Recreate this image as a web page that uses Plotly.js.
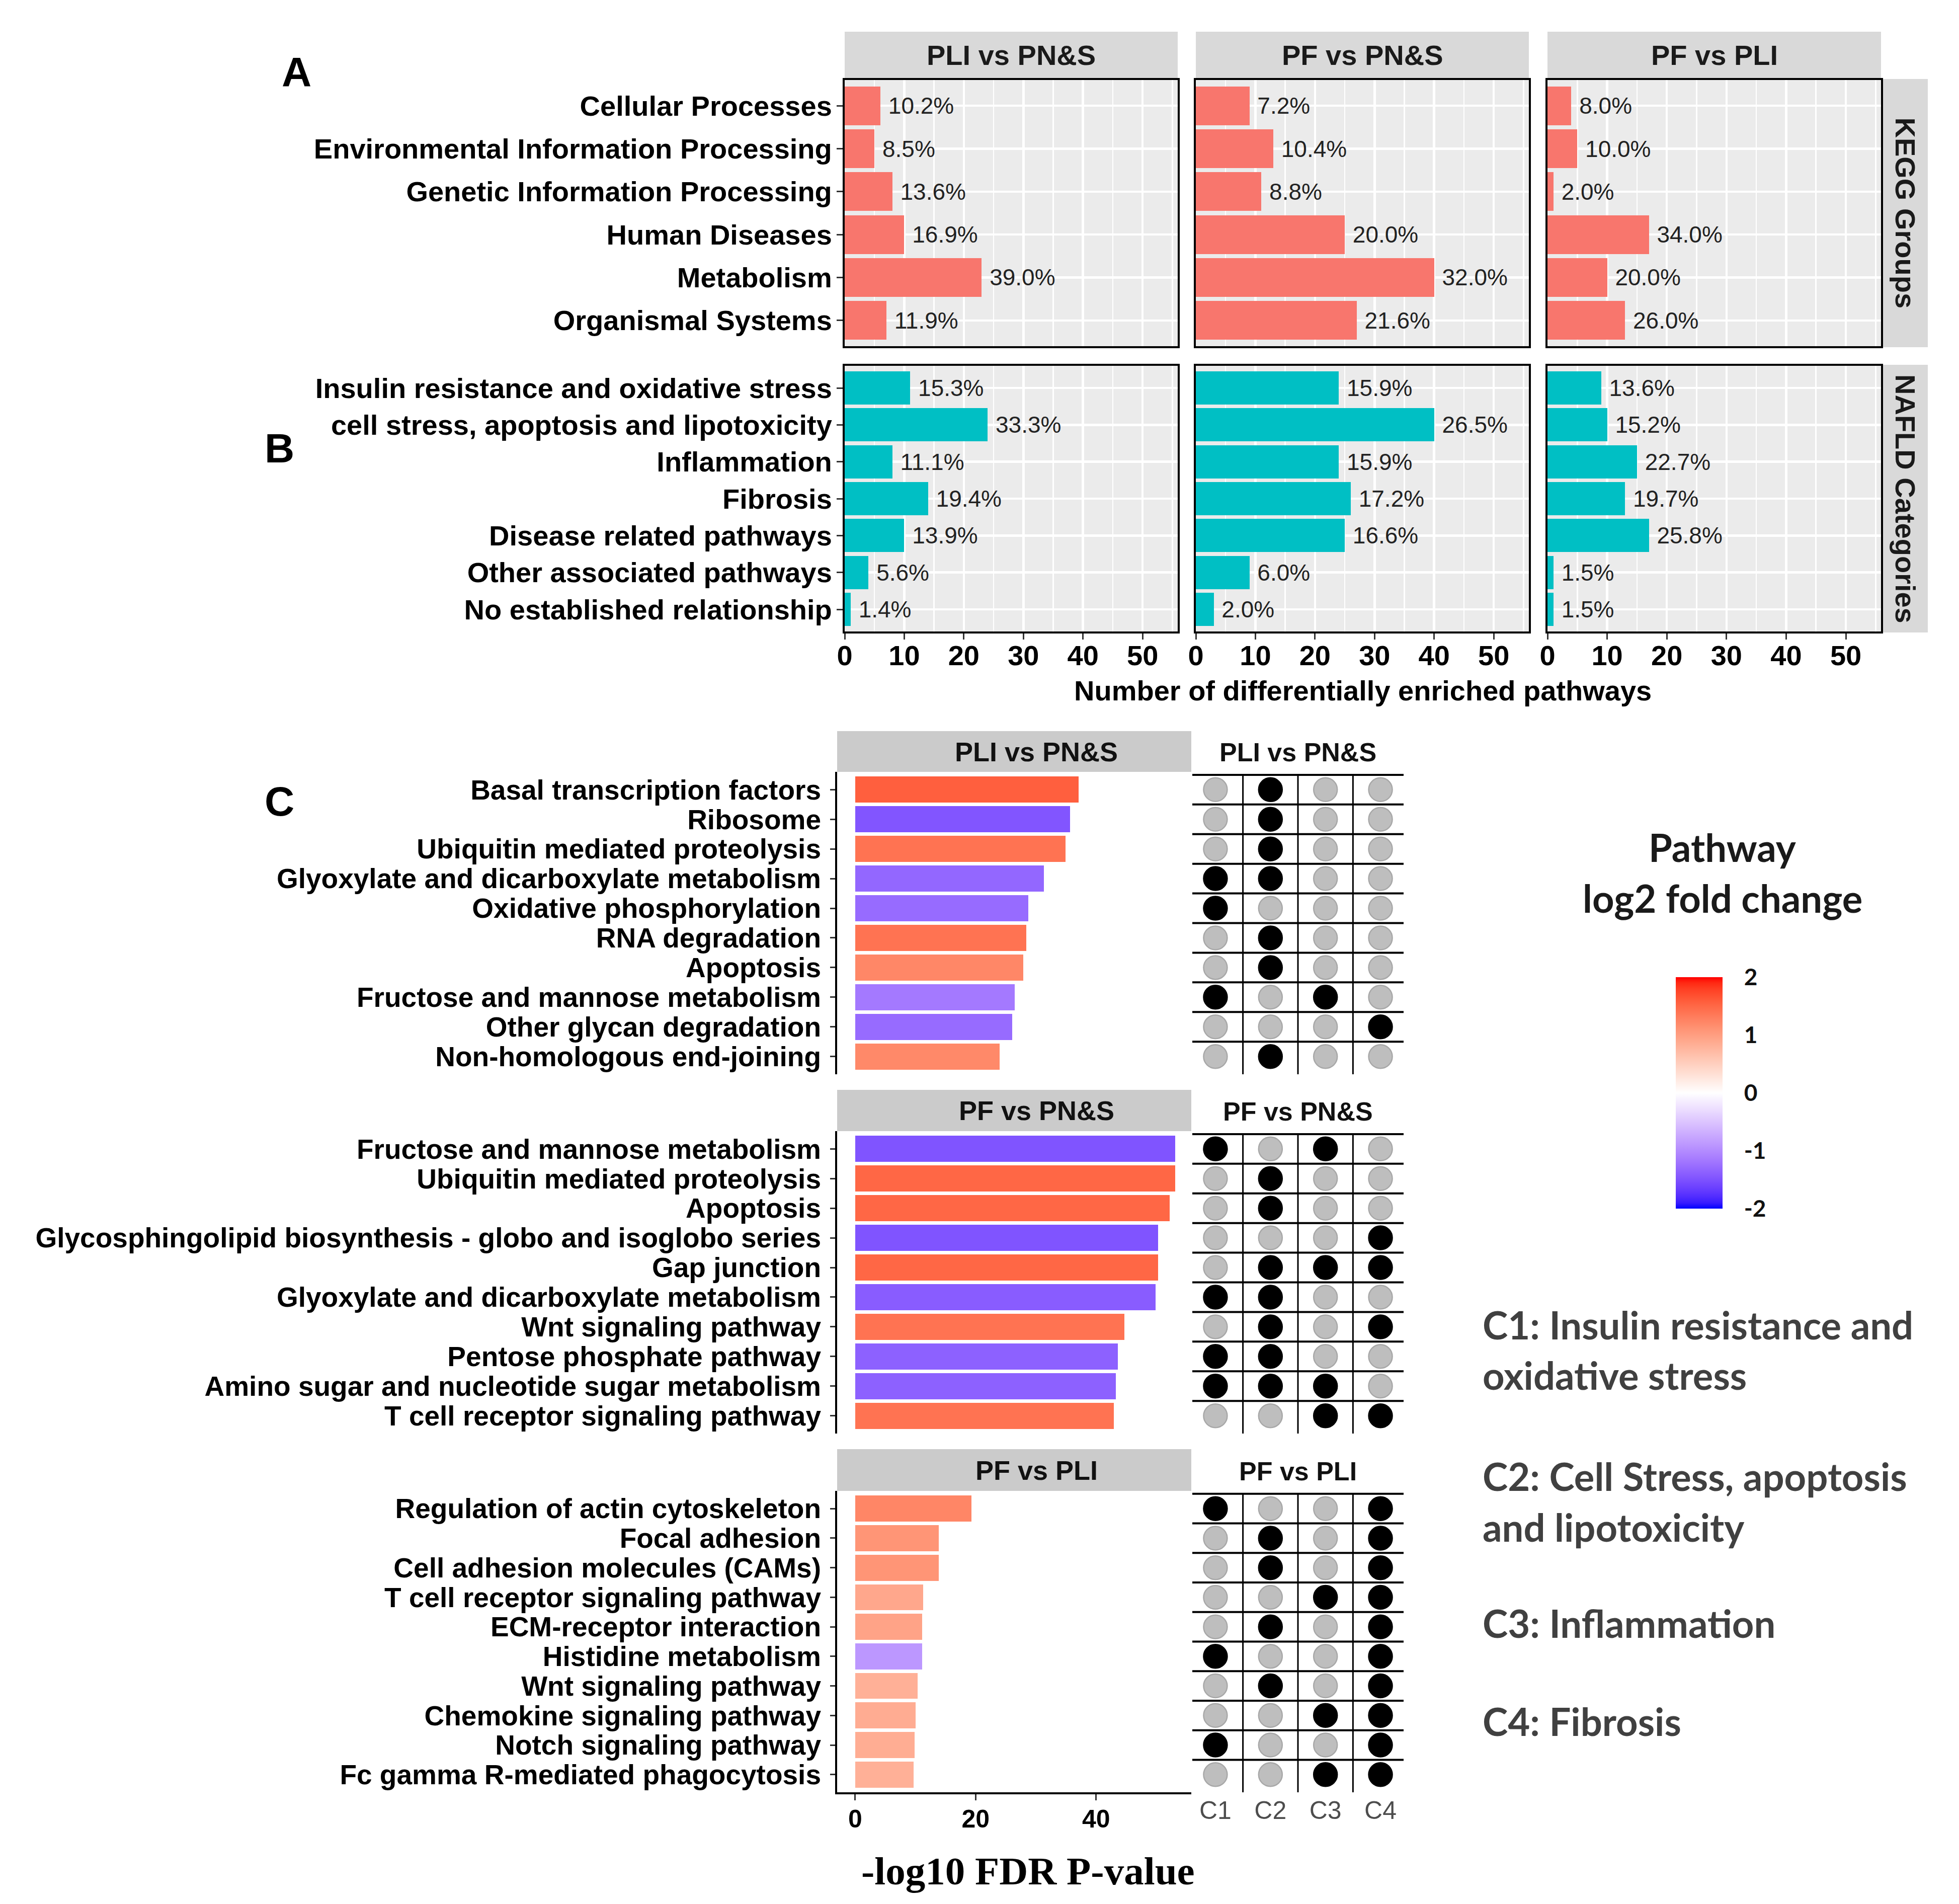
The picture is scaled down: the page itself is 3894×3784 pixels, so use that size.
<!DOCTYPE html>
<html><head><meta charset="utf-8">
<script src="https://cdn.plot.ly/plotly-3.0.1.min.js"></script>
<style>html,body{margin:0;padding:0;background:#fff}#chart{width:3894px;height:3784px}</style>
</head><body><div id="chart"></div>
<script>
// ===================== DATA =====================
const comparisons = ['PLI vs PN&S', 'PF vs PN&S', 'PF vs PLI'];
const facetRows = ['KEGG Groups', 'NAFLD Categories'];

const keggGroups = ['Cellular Processes', 'Environmental Information Processing', 'Genetic Information Processing',
  'Human Diseases', 'Metabolism', 'Organismal Systems'];
const keggPLIvsPNS = [6, 5, 8, 10, 23, 7];
const keggPFvsPNS = [9, 13, 11, 25, 40, 27];
const keggPFvsPLI = [4, 5, 1, 17, 10, 13];

const nafldCategories = ['Insulin resistance and oxidative stress', 'cell stress, apoptosis and lipotoxicity',
  'Inflammation', 'Fibrosis', 'Disease related pathways', 'Other associated pathways', 'No established relationship'];
const nafldPLIvsPNS = [11, 24, 8, 14, 10, 4, 1];
const nafldPFvsPNS = [24, 40, 24, 26, 25, 9, 3];
const nafldPFvsPLI = [9, 10, 15, 13, 17, 1, 1];

const countTicks = [0, 10, 20, 30, 40, 50];

// Panel C
const nafldClasses = ['C1', 'C2', 'C3', 'C4'];

const pathwaysPLIvsPNS = ['Basal transcription factors', 'Ribosome', 'Ubiquitin mediated proteolysis',
  'Glyoxylate and dicarboxylate metabolism', 'Oxidative phosphorylation', 'RNA degradation', 'Apoptosis',
  'Fructose and mannose metabolism', 'Other glycan degradation', 'Non-homologous end-joining'];
const fdrPLIvsPNS = [37.1, 35.7, 34.9, 31.3, 28.7, 28.4, 27.9, 26.5, 26.1, 24.0];
const fcPLIvsPNS = [1.57, -1.47, 1.40, -1.32, -1.28, 1.40, 1.22, -1.16, -1.28, 1.20];
const classPLIvsPNS = [[0,1,0,0],[0,1,0,0],[0,1,0,0],[1,1,0,0],[1,0,0,0],[0,1,0,0],[0,1,0,0],[1,0,1,0],[0,0,0,1],[0,1,0,0]];

const pathwaysPFvsPNS = ['Fructose and mannose metabolism', 'Ubiquitin mediated proteolysis', 'Apoptosis',
  'Glycosphingolipid biosynthesis - globo and isoglobo series', 'Gap junction', 'Glyoxylate and dicarboxylate metabolism',
  'Wnt signaling pathway', 'Pentose phosphate pathway', 'Amino sugar and nucleotide sugar metabolism',
  'T cell receptor signaling pathway'];
const fdrPFvsPNS = [53.1, 53.1, 52.2, 50.3, 50.3, 49.9, 44.7, 43.6, 43.3, 42.9];
const fcPFvsPNS = [-1.48, 1.51, 1.51, -1.48, 1.51, -1.41, 1.40, -1.37, -1.37, 1.40];
const classPFvsPNS = [[1,0,1,0],[0,1,0,0],[0,1,0,0],[0,0,0,1],[0,1,1,1],[1,1,0,0],[0,1,0,1],[1,1,0,0],[1,1,1,0],[0,0,1,1]];

const pathwaysPFvsPLI = ['Regulation of actin cytoskeleton', 'Focal adhesion', 'Cell adhesion molecules (CAMs)',
  'T cell receptor signaling pathway', 'ECM-receptor interaction', 'Histidine metabolism', 'Wnt signaling pathway',
  'Chemokine signaling pathway', 'Notch signaling pathway', 'Fc gamma R-mediated phagocytosis'];
const fdrPFvsPLI = [19.3, 13.9, 13.9, 11.3, 11.1, 11.1, 10.4, 10.0, 9.9, 9.7];
const fcPFvsPLI = [1.23, 1.09, 1.09, 0.91, 0.95, -0.90, 0.82, 0.86, 0.85, 0.82];
const classPFvsPLI = [[1,0,0,1],[0,1,0,1],[0,1,0,1],[0,0,1,1],[0,1,0,1],[1,0,0,1],[0,1,0,1],[0,0,1,1],[1,0,0,1],[0,0,1,1]];

const fdrTicks = [0, 20, 40];
const fcTicks = [-2, -1, 0, 1, 2];

const legendLines = ['C1: Insulin resistance and', 'oxidative stress', 'C2: Cell Stress, apoptosis',
  'and lipotoxicity', 'C3: Inflammation', 'C4: Fibrosis'];

// ===================== HELPERS =====================
const W = 3894, H = 3784;
const px = v => v / W;
const py = v => 1 - v / H;
const dX = (a, b) => [px(a), px(b)];
const dY = (top, bottom) => [py(bottom), py(top)];
const SANS = 'Liberation Sans';

// Lab-space diverging scale (blue - white - red), like ggplot scale_fill_gradient2
function s2l(c) { c /= 255; return c <= 0.04045 ? c / 12.92 : Math.pow((c + 0.055) / 1.055, 2.4); }
function l2s(c) { c = Math.max(0, Math.min(1, c)); return Math.round(255 * (c <= 0.0031308 ? 12.92 * c : 1.055 * Math.pow(c, 1 / 2.4) - 0.055)); }
function rgb2lab(rgb) {
  const [r, g, b] = rgb.map(s2l);
  const X = (0.4124 * r + 0.3576 * g + 0.1805 * b) / 0.95047;
  const Y = (0.2126 * r + 0.7152 * g + 0.0722 * b);
  const Z = (0.0193 * r + 0.1192 * g + 0.9505 * b) / 1.08883;
  const f = t => t > 0.008856 ? Math.cbrt(t) : 7.787 * t + 16 / 116;
  const fx = f(X), fy = f(Y), fz = f(Z);
  return [116 * fy - 16, 500 * (fx - fy), 200 * (fy - fz)];
}
function lab2rgb(lab) {
  const [L, a, b] = lab;
  const fy = (L + 16) / 116, fx = fy + a / 500, fz = fy - b / 200;
  const fi = t => (t * t * t > 0.008856) ? t * t * t : (t - 16 / 116) / 7.787;
  const X = 0.95047 * fi(fx), Y = fi(fy), Z = 1.08883 * fi(fz);
  const r = 3.2406 * X - 1.5372 * Y - 0.4986 * Z;
  const g = -0.9689 * X + 1.8758 * Y + 0.0415 * Z;
  const bb = 0.0557 * X - 0.2040 * Y + 1.0570 * Z;
  return 'rgb(' + l2s(r) + ',' + l2s(g) + ',' + l2s(bb) + ')';
}
const labW = rgb2lab([255, 255, 255]), labR = rgb2lab([255, 0, 0]), labB = rgb2lab([0, 0, 255]);
const fcScale = [];
for (let i = 0; i <= 40; i++) {
  const v = -2 + i * 0.1, t = Math.abs(v) / 2, end = v < 0 ? labB : labR;
  fcScale.push([i / 40, lab2rgb(labW.map((w, k) => w + (end[k] - w) * t))]);
}

// ===================== BUILD =====================
const traces = [];
const layout = {
  width: W, height: H, margin: {l: 0, r: 0, t: 0, b: 0},
  paper_bgcolor: '#ffffff', plot_bgcolor: 'rgba(0,0,0,0)',
  showlegend: false, bargap: 0, font: {family: SANS, color: '#000'},
  annotations: [], shapes: []
};
const ann = (o) => layout.annotations.push(Object.assign({xref: 'paper', yref: 'paper', showarrow: false}, o));
const rect = (x0, y0, x1, y1, color) => layout.shapes.push({type: 'rect', xref: 'paper', yref: 'paper',
  x0: px(x0), x1: px(x1), y0: py(y1), y1: py(y0), fillcolor: color, line: {width: 0}, layer: 'below'});

// ---- Panels A / B
const colsX = [[1679, 2341], [2377, 3039], [3076, 3739]];
const rowsY = [[159, 688], [727, 1255]];
const abCats = [keggGroups, nafldCategories];
const abVals = [[keggPLIvsPNS, keggPFvsPNS, keggPFvsPLI], [nafldPLIvsPNS, nafldPFvsPNS, nafldPFvsPLI]];
const abColors = ['#F8766D', '#00BFC4'];

for (let r = 0; r < 2; r++) {
  for (let c = 0; c < 3; c++) {
    const idx = r * 3 + c + 1, sx = idx === 1 ? '' : String(idx);
    const vals = abVals[r][c], total = vals.reduce((a, b) => a + b, 0);
    traces.push({
      type: 'bar', orientation: 'h', x: vals, y: abCats[r], xaxis: 'x' + sx, yaxis: 'y' + sx,
      marker: {color: abColors[r], line: {width: 0}}, width: 0.9,
      text: vals.map(v => '\u00A0' + (v / total * 100).toFixed(1) + '%'),
      textposition: 'outside', constraintext: 'none', cliponaxis: false,
      textfont: {family: SANS, size: 46, color: '#222'}, hoverinfo: 'skip'
    });
    const n = abCats[r].length;
    layout['xaxis' + sx] = {
      domain: dX(colsX[c][0], colsX[c][1]), anchor: 'y' + sx, range: [0, 55.9],
      tickmode: 'array', tickvals: countTicks, showgrid: true, gridcolor: '#ffffff', gridwidth: 4.5,
      minor: {tick0: 5, dtick: 10, showgrid: true, gridcolor: '#ffffff', gridwidth: 2.5},
      showline: true, mirror: true, linecolor: '#000', linewidth: 4, zeroline: false,
      ticks: r === 1 ? 'outside' : '', ticklen: 12, tickwidth: 3, tickcolor: '#333',
      showticklabels: r === 1, ticklabelstandoff: -16,
      tickfont: {family: SANS, size: 56, color: '#000', weight: 700}
    };
    layout['yaxis' + sx] = {
      domain: dY(rowsY[r][0], rowsY[r][1]), anchor: 'x' + sx, type: 'category',
      categoryorder: 'array', categoryarray: abCats[r], range: [n - 0.4, -0.6],
      tickmode: 'array', tickvals: abCats[r],
      showgrid: true, gridcolor: '#ffffff', gridwidth: 4.5,
      showline: true, mirror: true, linecolor: '#000', linewidth: 4, zeroline: false,
      ticks: c === 0 ? 'outside' : '', ticklen: 12, tickwidth: 3, tickcolor: '#333',
      showticklabels: c === 0, ticklabelstandoff: -2,
      tickfont: {family: SANS, size: 56, color: '#000', weight: 700}
    };
    layout.shapes.push({type: 'rect', xref: 'x' + sx + ' domain', yref: 'y' + sx + ' domain',
      x0: 0, x1: 1, y0: 0, y1: 1, fillcolor: '#EBEBEB', line: {width: 0}, layer: 'below'});
  }
}
// strips A/B
comparisons.forEach((t, c) => {
  rect(colsX[c][0], 63, colsX[c][1], 155, '#D9D9D9');
  ann({x: px((colsX[c][0] + colsX[c][1]) / 2), y: py(109), text: t, xanchor: 'center', yanchor: 'middle',
    font: {family: SANS, size: 56, color: '#1a1a1a', weight: 700}});
});
facetRows.forEach((t, r) => {
  rect(3742, rowsY[r][0] - 2, 3832, rowsY[r][1] + 2, '#D9D9D9');
  ann({x: px(3787), y: py((rowsY[r][0] + rowsY[r][1]) / 2), text: t, textangle: 90, xanchor: 'center', yanchor: 'middle',
    font: {family: SANS, size: 56, color: '#1a1a1a', weight: 700}});
});
ann({x: px(2709), y: py(1372), text: 'Number of differentially enriched pathways', xanchor: 'center', yanchor: 'middle',
  font: {family: SANS, size: 56, color: '#000', weight: 700}});
ann({x: px(589), y: py(142), text: 'A', xanchor: 'center', yanchor: 'middle', font: {family: SANS, size: 82, color: '#000', weight: 700}});
ann({x: px(555), y: py(890), text: 'B', xanchor: 'center', yanchor: 'middle', font: {family: SANS, size: 82, color: '#000', weight: 700}});
ann({x: px(555), y: py(1592), text: 'C', xanchor: 'center', yanchor: 'middle', font: {family: SANS, size: 82, color: '#000', weight: 700}});

// ---- Panel C
const cY = [[1534, 2135], [2248, 2849], [2963, 3562]];
const stripY = [[1453, 1534], [2166, 2248], [2880, 2963]];
const barX = [1664, 2368], dotX = [2370, 2790];
const cPath = [pathwaysPLIvsPNS, pathwaysPFvsPNS, pathwaysPFvsPLI];
const cFdr = [fdrPLIvsPNS, fdrPFvsPNS, fdrPFvsPLI];
const cFc = [fcPLIvsPNS, fcPFvsPNS, fcPFvsPLI];
const cCls = [classPLIvsPNS, classPFvsPNS, classPFvsPLI];

for (let k = 0; k < 3; k++) {
  const bi = 7 + k, di = 10 + k;
  const n = cPath[k].length;
  const marker = {color: cFc[k], colorscale: fcScale, cmin: -2, cmax: 2, showscale: k === 0, line: {width: 0}};
  if (k === 0) {
    marker.colorbar = {
      x: px(3331), xanchor: 'left', xpad: 0, y: py(2172), yanchor: 'middle', ypad: 0,
      len: 460, lenmode: 'pixels', thickness: 93, thicknessmode: 'pixels', outlinewidth: 0,
      tickmode: 'array', tickvals: fcTicks, ticktext: fcTicks.map(String),
      ticks: 'outside', ticklen: 34, tickcolor: 'rgba(0,0,0,0)',
      tickfont: {family: 'Lato', size: 46, color: '#111', weight: 700}, title: {text: ''}
    };
  }
  traces.push({type: 'bar', orientation: 'h', x: cFdr[k], y: cPath[k], xaxis: 'x' + bi, yaxis: 'y' + bi,
    marker: marker, width: 0.88, hoverinfo: 'skip'});
  const last = k === 2;
  layout['xaxis' + bi] = {
    domain: dX(barX[0], barX[1]), anchor: 'y' + bi, range: [-3.0, 55.8], showgrid: false, zeroline: false,
    showline: last, linecolor: '#000', linewidth: 4, ticks: last ? 'outside' : '', ticklen: 12, tickwidth: 3,
    tickcolor: '#333', tickmode: 'array', tickvals: fdrTicks, showticklabels: last, ticklabelstandoff: -6,
    tickfont: {family: SANS, size: 50, color: '#000', weight: 700}
  };
  layout['yaxis' + bi] = {
    domain: dY(cY[k][0], cY[k][1]), anchor: 'x' + bi, type: 'category', categoryorder: 'array',
    categoryarray: cPath[k], tickmode: 'array', tickvals: cPath[k], range: [n - 0.4, -0.6], showgrid: false, zeroline: false,
    showline: true, linecolor: '#000', linewidth: 4, ticks: 'outside', ticklen: 10, tickwidth: 3, tickcolor: '#333',
    ticklabelstandoff: 7, tickfont: {family: SANS, size: 55, color: '#000', weight: 700}
  };
  // strip
  rect(barX[0], stripY[k][0], barX[1], stripY[k][1], '#CBCBCB');
  ann({x: px(2060), y: py((stripY[k][0] + stripY[k][1]) / 2), text: comparisons[k], xanchor: 'center', yanchor: 'middle',
    font: {family: SANS, size: 54, color: '#111', weight: 700}});
  ann({x: px(2580), y: py((stripY[k][0] + stripY[k][1]) / 2 + 2), text: comparisons[k], xanchor: 'center', yanchor: 'middle',
    font: {family: SANS, size: 52, color: '#111', weight: 700}});

  // dot matrix
  const dx = [], dy = [], dc = [], dl = [];
  cCls[k].forEach((row, i) => row.forEach((m, j) => {
    dx.push(nafldClasses[j]); dy.push(cPath[k][i]);
    dc.push(m ? '#000000' : '#BEBEBE'); dl.push(m ? '#000000' : '#A8A8A8');
  }));
  traces.push({type: 'scatter', mode: 'markers', x: dx, y: dy, xaxis: 'x' + di, yaxis: 'y' + di,
    marker: {size: 47, color: dc, line: {color: dl, width: 2.5}}, hoverinfo: 'skip', cliponaxis: false});
  layout['xaxis' + di] = {
    domain: dX(dotX[0], dotX[1]), anchor: 'y' + di, type: 'category', categoryorder: 'array',
    categoryarray: nafldClasses, tickmode: 'array', tickvals: nafldClasses, range: [-0.42, 3.42],
    showgrid: false, zeroline: false, showline: false,
    ticks: '', showticklabels: last, ticklabelstandoff: 2,
    tickfont: {family: SANS, size: 50, color: '#4d4d4d'}
  };
  layout['yaxis' + di] = {
    domain: dY(cY[k][0], cY[k][1]), anchor: 'x' + di, type: 'category', categoryorder: 'array',
    categoryarray: cPath[k], range: [n - 0.4, -0.6], showgrid: false, zeroline: false, showline: false,
    ticks: '', showticklabels: false
  };
  for (let i = 0; i < n; i++) {
    layout.shapes.push({type: 'line', xref: 'x' + di + ' domain', yref: 'y' + di, x0: 0, x1: 1, y0: i - 0.5, y1: i - 0.5,
      line: {color: '#000', width: 4}, layer: 'below'});
  }
  for (let j = 0; j < nafldClasses.length - 1; j++) {
    layout.shapes.push({type: 'line', xref: 'x' + di, yref: 'y' + di, x0: j + 0.5, x1: j + 0.5, y0: -0.5, y1: n - 0.4,
      line: {color: '#000', width: 3}, layer: 'below'});
  }
}
ann({x: px(2043), y: py(3718), text: '-log10 FDR P-value', xanchor: 'center', yanchor: 'middle',
  font: {family: 'Liberation Serif', size: 79, color: '#000', weight: 700}});

// legend
ann({x: px(3424), y: py(1683), text: 'Pathway', xanchor: 'center', yanchor: 'middle',
  font: {family: 'Lato', size: 76, color: '#1a1a1a', weight: 700}});
ann({x: px(3424), y: py(1785), text: 'log2 fold change', xanchor: 'center', yanchor: 'middle',
  font: {family: 'Lato', size: 76, color: '#1a1a1a', weight: 700}});
const legendY = [2632, 2732, 2933, 3034, 3225, 3420];
legendLines.forEach((t, i) => ann({x: px(2945), y: py(legendY[i]), text: t, xanchor: 'left', yanchor: 'middle',
  font: {family: 'Lato', size: 76, color: '#404040', weight: 700}}));

Plotly.newPlot('chart', traces, layout, {staticPlot: true, displayModeBar: false});
</script></body></html>
